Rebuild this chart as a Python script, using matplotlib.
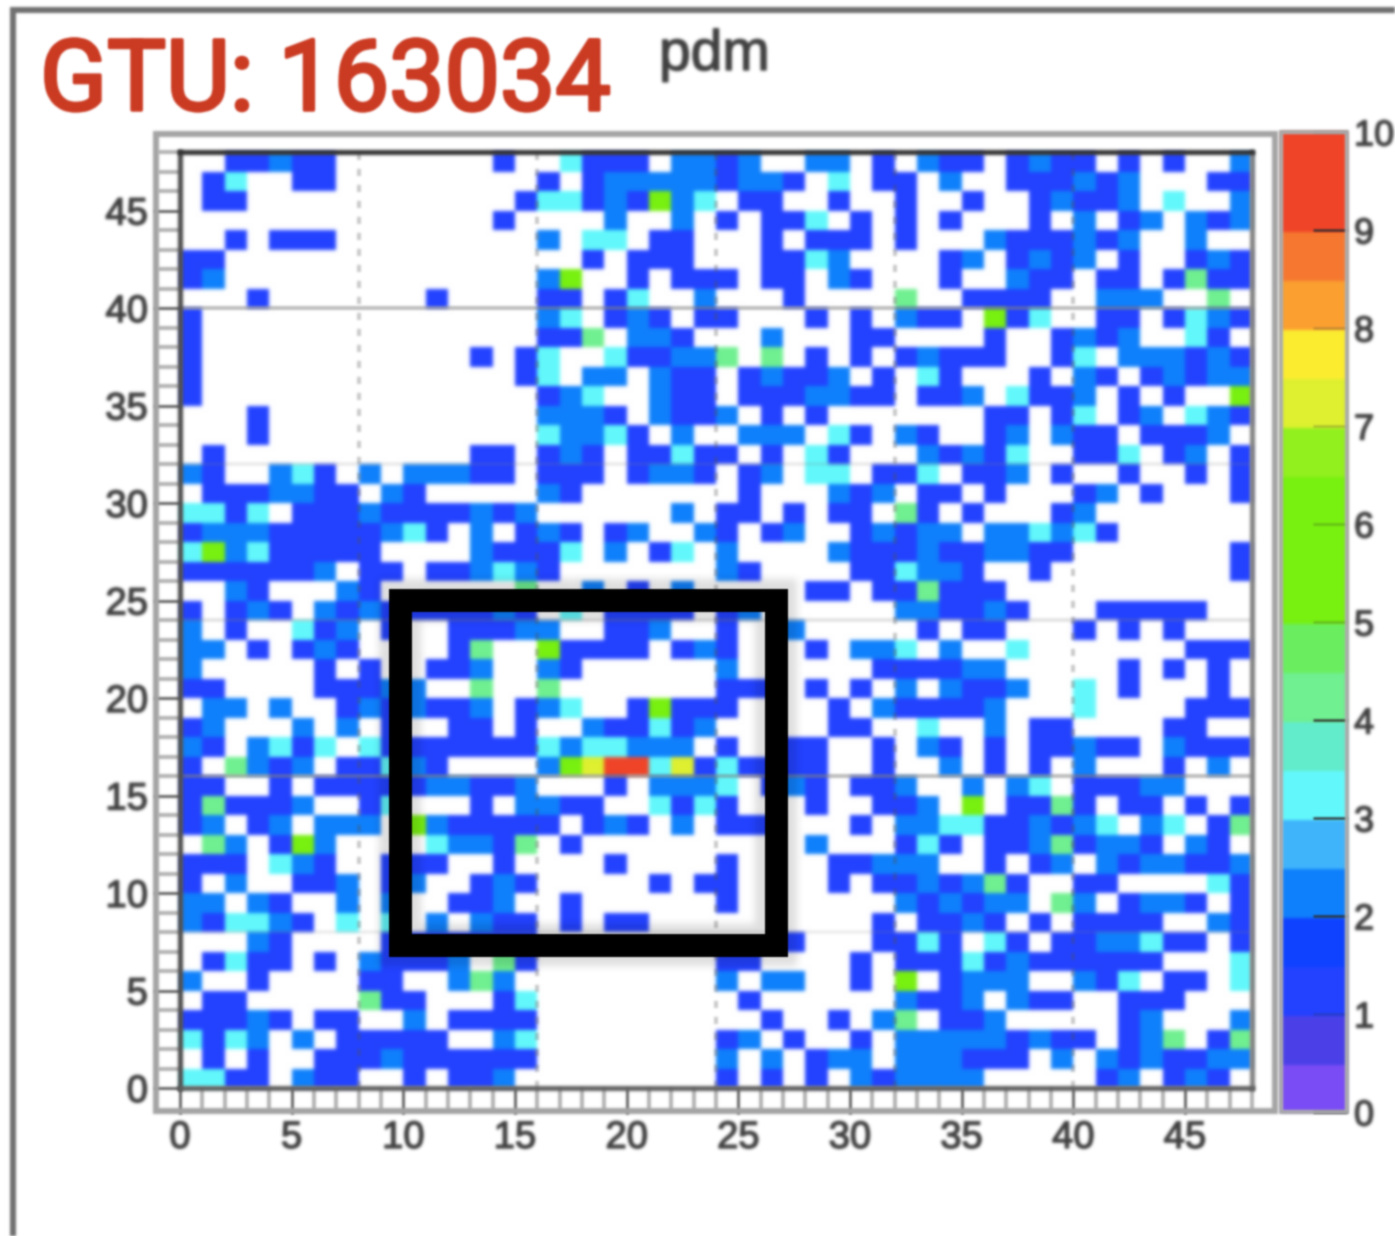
import numpy as np
import matplotlib
matplotlib.use("Agg")
import matplotlib.pyplot as plt
import matplotlib.patheffects as pe
from matplotlib.colors import ListedColormap, BoundaryNorm
from matplotlib.patches import Rectangle

W, H = 1395, 1236
TITLE = "GTU: 163034"
SUBTITLE = "pdm"
X_TICKS = list(range(0, 50, 5))
Y_TICKS = list(range(0, 50, 5))
BAR_TICKS = list(range(0, 11))
LEVELS = [i * 0.5 for i in range(21)]
BAND_COLORS = ["#7a4cf5", "#4b40e8", "#2342ff", "#0f42ff", "#0f80fb", "#40b4fb",
               "#62f8fb", "#62eccc", "#70f090", "#6aee60", "#78f010", "#78f010",
               "#78f010", "#92f01e", "#def030", "#fcec30", "#fba030", "#f67830",
               "#f04428", "#f04428"]

# counts per pixel; first string is the top row (y = 47), '.' means 0
ROWS = [
 "..11211.......1." ".3111.2212..22.1" ".211.1211.1.1..2",
 ".13..11........." "1.1222221221.3.1" "1.2..111212...11",
 ".11............1" "33121623.11..1.." "1..1..12112.3..2",
 "..............1." "...2..2.1.113.1." "1.1...1.2.12.212",
 "..1.111........." "2.33.11...1.111." "1...2111212..2..",
 "11.............." "..1.111...1132.." "..12.1212.1..121",
 "12.............." "26..1.111.11.21." "..1..211.11.1411",
 "...1.......1...." "11.13..2...1...." "4..1111..222..4.",
 "1..............." "23.121.11...1.1." "211.613..11.1321",
 "1..............." "114.221...2...11" "....1..1212..31.",
 "1............1.1" "3..311224.4.1.1." "12111..13.222121",
 "1..............1" "3.22.211.12112.1" ".31...1.21.12122",
 "1..............." "123..211.1112211" ".112.3112.1.1..6",
 "...1............" "2221.2112.1.1..." "....11.13.12.321",
 "...1............" "32231.2..222.31." "21..12.211.1112.",
 ".1...........11." "121.11311.1.31.." ".21213..113.12.1",
 "21..231.2.22211." "111.1221.12.33.1" "13.112.1..1..1.1",
 ".1112211.21....." "21.......1...212" ".11.1...12.1...1",
 "3313.11121111212" "......2.11.1.11." "41.1...12.......",
 "122211111231.2.1" "21.12..21.12..12" "122.223231......",
 "362311111....211" "13.2.13.2....211" "12112211.......1",
 "1111112.11.11232" "1.......21....11" "3221..1........1",
 "..21...21......4" "..2.1.2.....11.1" "14111...........",
 "1.121.2121111121" ".3.1111.12......" "221121...11111..",
 "2.1..312.1..1112" "2..112..1..2...." ".1.11...1.1.1...",
 "22.1.121....14.." "61111.121...1.22" "3.2..3.......111",
 "2.....1.1..112.." "21......2......1" "11122.....1.1.1.",
 "11....11122..4.." "4.......111.1.1." "2.2112..3.1...1.",
 ".22.2..1212112.1" "23..16111....1.2" "11112...3....111",
 "12...2.2.1..11.1" "..211312.....11." ".3..2.11....11..",
 "21.2313.31111111" "3233222.1..11..1" ".21.1.11211.2111",
 "1.4212.11321...." "2679937131111..1" "..2.1.1.2...1.2.",
 "11..1.1111122112" "...1.2223.121.11" "2..2.23.11122...",
 "141112..13...1.2" "211..3131...1..1" "12.6.1141.11.1.1",
 "12.12.222.621111" "1.121.2.111...1." "2233112123.23.14",
 ".42.162....32214" ".1..........2..." "131.11241221.21.",
 "111.321..111..1." "...1....1....112" "22..1.12.2122112",
 "1.2..112.12..121" ".....1.11....1.1" "121241..11....31",
 "22.21..2.2..112." ".1......1......." "212122.42.1221.1",
 "213321.3.3.2.211" ".1.11..........1" ".1121.1.1111..21",
 "...21....1111111" "...........1...1" "131.31.1122311.1",
 ".1311.1.21112.41" "........11....1." "111312111111...3",
 "2..1....11..242." "........2.22..1." "6.1222..213.11.3",
 ".11.....411...13" ".........1......" "2112.211..111...",
 "11121.11..2.1111" "..........1..1.2" "4.112.....12...2",
 "3132.2.11111..23" "........12.1..1." "222221211.124.14",
 ".1.1..1112111111" "........2.2.122." "222111.2.2121122",
 "3311.211..1.112." "........1.1.1.21" "2222.....12.121.",
]


def blur(sigma):
    """agg_filter: gaussian softening, to match the soft scan of the original."""
    radius = int(3 * sigma + 1)
    kernel = np.exp(-0.5 * (np.arange(-radius, radius + 1) / sigma) ** 2)
    kernel /= kernel.sum()

    def conv(a, axis):
        return np.apply_along_axis(lambda m: np.convolve(m, kernel, mode="same"), axis, a)

    def apply(img, dpi):
        img = np.pad(img, ((radius, radius), (radius, radius), (0, 0)))
        alpha = img[..., 3:]
        pre = np.concatenate([img[..., :3] * alpha, alpha], axis=2)
        pre = conv(conv(pre, 0), 1)
        a = np.clip(pre[..., 3:], 1e-4, 1)
        out = np.concatenate([np.clip(pre[..., :3] / a, 0, 1), pre[..., 3:]], axis=2)
        return out, -radius, -radius
    return apply


def px_axes(x0, y0, x1, y1):
    return [x0 / W, 1 - y1 / H, (x1 - x0) / W, (y1 - y0) / H]


def pt(px):
    return px * 72 / 100


plt.rcParams["font.family"] = ["Liberation Sans", "DejaVu Sans"]
fig = plt.figure(figsize=(W / 100, H / 100), dpi=100, facecolor="white")

# outer picture frame and pad frame
for (x0, y0, x1, y1), col, lw in [((12.5, 9.5, 1420, 1290), "#707070", 6),
                                  ((156, 134, 1275, 1111), "#a4a4a4", 6)]:
    fig.add_artist(Rectangle((x0 / W, 1 - y1 / H), (x1 - x0) / W, (y1 - y0) / H,
                             transform=fig.transFigure, fill=False, ec=col, lw=pt(lw),
                             zorder=0.5, agg_filter=blur(1.3)))

ax = fig.add_axes(px_axes(180, 152, 1252, 1088))
counts = np.array([[0 if c == "." else int(c) for c in row] for row in ROWS], dtype=float)[::-1]
cmap = ListedColormap(BAND_COLORS)
cmap.set_bad("white")
norm = BoundaryNorm(LEVELS, cmap.N)
edges = np.arange(49)
mesh = ax.pcolormesh(edges, edges, np.ma.masked_equal(counts, 0), cmap=cmap, norm=norm,
                     antialiased=False, zorder=1)
mesh.set_agg_filter(blur(2.0))
ax.set_xlim(0, 48)
ax.set_ylim(0, 48)

# dotted vertical and faint horizontal grid lines
for v in (8, 16, 24, 32, 40):
    ax.axvline(v, color="#505050", alpha=0.3, lw=pt(4), ls=(0, (1.8, 2.2)), zorder=2,
               agg_filter=blur(1.2))
for h, a in ((40, 0.5), (16, 0.5), (32, 0.14), (24, 0.2), (8, 0.12)):
    ax.axhline(h, color="#808080", alpha=a, lw=pt(4), zorder=2, agg_filter=blur(1.2))

# hand-drawn black marker box with its soft shadow
box = (9.85, 7.33, 26.7 - 9.85, 25.03 - 7.33)
ax.add_patch(Rectangle(box[:2], box[2], box[3], fill=False, ec="black", alpha=0.13,
                       lw=pt(42), zorder=3, agg_filter=blur(4.0)))
ax.add_patch(Rectangle(box[:2], box[2], box[3], fill=False, ec="black", lw=pt(23),
                       joinstyle="miter", zorder=4, agg_filter=blur(0.8)))

ax.set_xticks(X_TICKS)
ax.set_yticks(Y_TICKS)
ax.set_xticks(range(0, 49), minor=True)
ax.set_yticks(range(0, 49), minor=True)
ax.tick_params(which="major", length=pt(26), width=pt(3), color="#6a6a6a", direction="out",
               pad=pt(6), labelsize=27.5, labelcolor="#404040")
ax.tick_params(which="minor", length=pt(22), width=pt(4), color="#b4b4b4", direction="out")
for t in ax.get_xticklabels() + ax.get_yticklabels():
    t.set_agg_filter(blur(1.5))
    t.set_path_effects([pe.withStroke(linewidth=1.0, foreground="#404040")])
for tick in ax.xaxis.get_ticklines(minor=True) + ax.yaxis.get_ticklines(minor=True) \
        + ax.xaxis.get_ticklines() + ax.yaxis.get_ticklines():
    tick.set_agg_filter(blur(1.2))
for side, col, lw in (("left", "#4a4a4a", 5), ("top", "#303030", 5),
                      ("right", "#808080", 5), ("bottom", "#606060", 5)):
    ax.spines[side].set_color(col)
    ax.spines[side].set_linewidth(pt(lw))
    ax.spines[side].set_agg_filter(blur(1.1))

# colour scale
cax = fig.add_axes(px_axes(1281, 132, 1347, 1112))
cbar = fig.colorbar(mesh, cax=cax, ticks=BAR_TICKS, spacing="proportional", drawedges=False)
cbar.solids.set_edgecolor("face")
cbar.outline.set_edgecolor("#a8a8a8")
cbar.outline.set_linewidth(pt(4))
cbar.outline.set_agg_filter(blur(1.2))
cbar.solids.set_agg_filter(blur(1.6))
cax.yaxis.set_ticks_position("right")
cax.minorticks_off()
cax.tick_params(axis="y", length=pt(34), width=pt(2.5), direction="in", color="#303030",
                pad=pt(7), labelsize=26, labelcolor="#404040")
for t in cax.get_yticklabels():
    t.set_agg_filter(blur(1.5))
    t.set_path_effects([pe.withStroke(linewidth=1.0, foreground="#404040")])
for tl in cax.yaxis.get_ticklines():
    tl.set_agg_filter(blur(1.0))
faint = {1, 5, 6, 7, 8, 10}
for val, tick in zip(BAR_TICKS, cax.yaxis.get_major_ticks()):
    tick.tick2line.set_alpha(0.25 if val in faint else 0.9)

fig.text(40 / W, 1 - 110 / H, TITLE, color="#cb3a22", fontsize=71,
         family=["Roboto", "Liberation Sans", "DejaVu Sans"],
         va="baseline", ha="left", agg_filter=blur(1.0),
         path_effects=[pe.withStroke(linewidth=2.5, foreground="#cb3a22")])
fig.text(659 / W, 1 - 70 / H, SUBTITLE, color="#404040", fontsize=41, va="baseline", ha="left",
         agg_filter=blur(1.5), path_effects=[pe.withStroke(linewidth=1.0, foreground="#404040")])

fig.savefig("out.png", dpi=100, facecolor="white")
